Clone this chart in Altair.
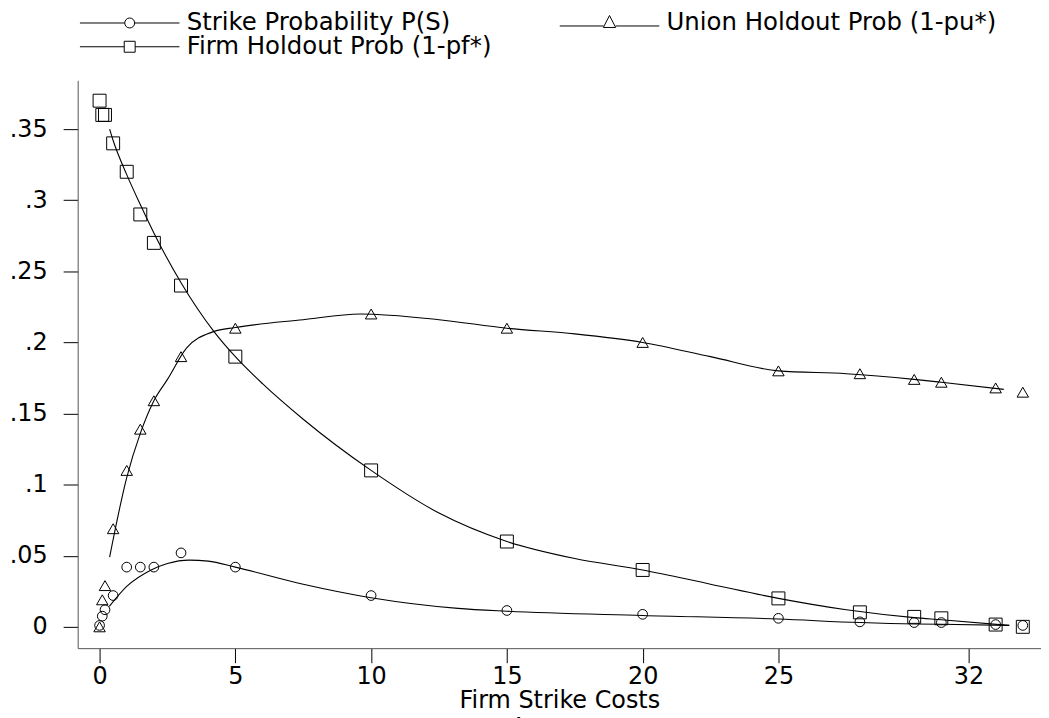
import altair as alt
import pandas as pd

FONT = "DejaVu Sans"

series_names = [
    "Strike Probability P(S)",
    "Union Holdout Prob (1-pu*)",
    "Firm Holdout Prob (1-pf*)",
]

# observed points (x = firm strike costs)
cost_points = [0, 0.1, 0.2, 0.5, 1, 1.5, 2, 3, 5, 10, 15, 20, 25, 28, 30, 31, 33, 34]
strike_values = [0.001, 0.0075, 0.012, 0.022, 0.042, 0.042, 0.042, 0.052, 0.042,
                 0.022, 0.0115, 0.0088, 0.006, 0.0035, 0.003, 0.003, 0.0016, 0.001]
union_values = [0.0, 0.019, 0.029, 0.069, 0.11, 0.139, 0.159, 0.19, 0.21,
                0.22, 0.21, 0.20, 0.18, 0.178, 0.174, 0.172, 0.168, 0.165]
firm_values = [0.37, 0.36, 0.36, 0.34, 0.32, 0.29, 0.27, 0.24, 0.19,
               0.11, 0.06, 0.04, 0.02, 0.0102, 0.007, 0.006, 0.0016, 0.0]

# smoothed fitted curves
strike_fit_x = [0.36, 1, 1.9, 2.5, 3.3, 4, 5, 7.5, 10, 13.2, 15, 20, 25, 28, 30, 31, 33.5]
strike_fit_y = [0.0144, 0.0284, 0.040, 0.0445, 0.0469, 0.0462, 0.042, 0.030, 0.0205,
                0.013, 0.011, 0.008, 0.0055, 0.003, 0.002, 0.0018, 0.001]
union_fit_x = [0.37, 1, 1.5, 2, 2.5, 3.2, 4.2, 5, 7.5, 9.6, 12.5, 15, 17.5, 20,
               22.5, 25, 27.5, 30, 31, 33.3]
union_fit_y = [0.049, 0.105, 0.136, 0.159, 0.174, 0.196, 0.2076, 0.2105, 0.216, 0.22,
               0.216, 0.21, 0.206, 0.20, 0.19, 0.18, 0.178, 0.174, 0.172, 0.167]
firm_fit_x = [0.37, 0.5, 1, 1.5, 2, 3, 4.2, 5, 6, 7.5, 10, 12.5, 15, 17.5, 20,
              22.5, 25, 27.5, 30, 31, 33.5]
firm_fit_y = [0.35, 0.342, 0.318, 0.297, 0.277, 0.242, 0.208, 0.19, 0.171, 0.146, 0.11,
              0.08, 0.06, 0.048, 0.04, 0.03, 0.02, 0.012, 0.0065, 0.005, 0.001]

x_ticks = [0, 5, 10, 15, 20, 25, 32]
y_ticks = [0, 0.05, 0.1, 0.15, 0.2, 0.25, 0.3, 0.35]

points = pd.concat([
    pd.DataFrame({"cost": cost_points, "prob": vals, "series": name})
    for name, vals in zip(series_names, [strike_values, union_values, firm_values])
])
fits = pd.concat([
    pd.DataFrame({"cost": fx, "prob": fy, "series": name})
    for name, fx, fy in zip(series_names,
                            [strike_fit_x, union_fit_x, firm_fit_x],
                            [strike_fit_y, union_fit_y, firm_fit_y])
])

xscale = alt.Scale(domain=[-0.806, 34.67], nice=False, zero=False)
yscale = alt.Scale(domain=[-0.015, 0.3843], nice=False, zero=False)

x_axis = alt.Axis(values=x_ticks, title="Firm Strike Costs", grid=False,
                  tickSize=14.6, labelPadding=2, labelFontSize=24, titleFontSize=24,
                  labelFont=FONT, titleFont=FONT, titleFontWeight="normal",
                  titlePadding=0, domainColor="#555555", tickColor="#000000",
                  labelColor="#000000", titleColor="#000000", labelFlush=False)
y_axis = alt.Axis(values=y_ticks, title=None, grid=False, tickSize=14.6,
                  labelPadding=16, labelFontSize=24, labelFont=FONT,
                  labelExpr="datum.value == 0 ? '0' : replace(format(datum.value, '.2~f'), '0.', '.')",
                  domainColor="#555555", tickColor="#000000", labelColor="#000000")

X = alt.X("cost:Q", scale=xscale, axis=x_axis)
Y = alt.Y("prob:Q", scale=yscale, axis=y_axis)

lines = alt.Chart(fits).mark_line(interpolate="monotone", color="black", strokeWidth=1.1).encode(
    x=X, y=Y, detail="series:N"
)

markers = alt.Chart(points).mark_point(filled=False, color="black", strokeWidth=1, opacity=1).encode(
    x=X, y=Y,
    shape=alt.Shape("series:N", scale=alt.Scale(domain=series_names,
                                                range=["circle", "triangle-up", "square"]),
                    legend=None),
    size=alt.Size("series:N", scale=alt.Scale(domain=series_names, range=[95, 169, 156]),
                  legend=None),
)

# legend keys: a line with the marker in its middle (path units of 10 px)
legend_paths = [
    "M -1 0 H 3.5 M 3.5 0 A 0.5 0.5 0 1 1 4.5 0 A 0.5 0.5 0 1 1 3.5 0 M 4.5 0 H 9",
    "M -1 0.3 H 3.4 M 4 -0.75 L 4.62 0.45 L 3.38 0.45 Z M 4.62 0.3 H 9",
    "M -1 0 H 3.45 M 3.45 -0.55 H 4.55 V 0.55 H 3.45 Z M 4.55 0 H 9",
]

legend_layer = alt.Chart(points).transform_filter("false").mark_point(
    filled=False, color="black", strokeWidth=1, opacity=1
).encode(
    x=X, y=Y,
    shape=alt.Shape("series:N", scale=alt.Scale(domain=series_names, range=legend_paths),
                    legend=alt.Legend(title=None, orient="none", legendX=0, legendY=-70,
                                      direction="horizontal", columns=2,
                                      columnPadding=66, rowPadding=-3,
                                      symbolSize=400,
                                      symbolStrokeColor="black", symbolStrokeWidth=1,
                                      symbolFillColor="transparent",
                                      labelFont=FONT, labelFontSize=24.5, labelLimit=1000,
                                      labelColor="#000000", labelOffset=85)),
)

chart = alt.layer(lines, markers, legend_layer).resolve_scale(
    shape="independent", size="independent"
).resolve_legend(shape="independent").properties(
    width=967.7, height=570.4,
    background="white",
    padding={"left": 1, "top": 1, "right": 0, "bottom": 0},
    title=alt.Title("Figure 5", orient="bottom", fontSize=30, font=FONT,
                    fontWeight="normal", color="#000000", offset=4),
).configure_view(stroke=None)

chart.save("out.html", embed_options={"renderer": "svg", "actions": False})
